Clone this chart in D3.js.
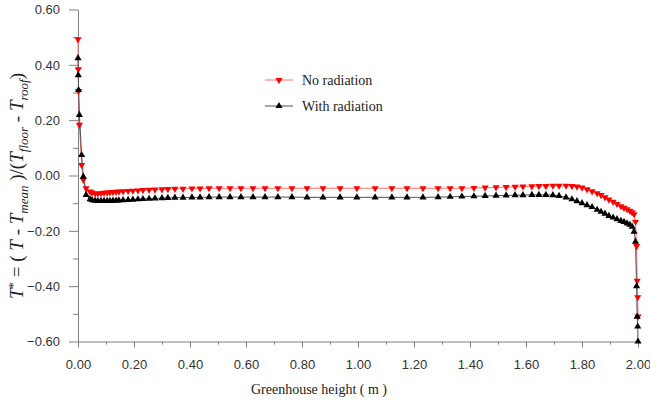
<!DOCTYPE html>
<html>
<head>
<meta charset="utf-8">
<script src="https://cdn.jsdelivr.net/npm/d3@7"></script>
<style>
  body { margin: 0; background: #fff; }
  svg { display: block; }
  .tick text { font-family: "Liberation Sans", Arial, sans-serif; font-size: 13px; fill: #333; }
  .axis path, .axis line { stroke: #808080; }
  .serif { font-family: "Liberation Serif", "Times New Roman", serif; fill: #222; }
</style>
</head>
<body>
<svg id="chart" width="650" height="403"></svg>
<script>
// grid positions along the greenhouse height (m)
const heights = [
  0.000, 0.001, 0.002, 0.005, 0.013, 0.019, 0.029, 0.043,
  0.050, 0.061, 0.071, 0.082, 0.093, 0.104, 0.114, 0.125, 0.136, 0.146,
  0.161, 0.179, 0.196, 0.214, 0.232, 0.254, 0.275, 0.300, 0.321, 0.346,
  0.375, 0.407, 0.436, 0.468, 0.504, 0.543, 0.582, 0.625, 0.668, 0.714,
  0.764, 0.818, 0.875, 0.936, 0.996, 1.061, 1.121, 1.175, 1.232, 1.286,
  1.329, 1.371, 1.414, 1.454, 1.493, 1.529, 1.561, 1.589, 1.621, 1.646,
  1.671, 1.696, 1.718, 1.743, 1.764, 1.782, 1.800, 1.818, 1.836, 1.854,
  1.868, 1.882, 1.896, 1.911, 1.925, 1.939, 1.950, 1.961, 1.971, 1.979,
  1.986, 1.991, 1.995, 1.997, 1.999, 2.000
];

const noRadiation = [
  0.492, 0.384, 0.305, 0.183, 0.038, -0.016, -0.046, -0.058,
  -0.062, -0.065, -0.065, -0.064, -0.063, -0.062, -0.061, -0.060, -0.059, -0.058,
  -0.057, -0.056, -0.055, -0.054, -0.053, -0.052, -0.051, -0.050, -0.049, -0.048,
  -0.048, -0.047, -0.047, -0.046, -0.046, -0.046, -0.046, -0.046, -0.046, -0.046,
  -0.046, -0.046, -0.046, -0.046, -0.046, -0.046, -0.046, -0.046, -0.046, -0.046,
  -0.046, -0.046, -0.045, -0.044, -0.043, -0.042, -0.041, -0.040, -0.039, -0.038,
  -0.038, -0.037, -0.037, -0.037, -0.038, -0.040, -0.044, -0.050, -0.057, -0.064,
  -0.071, -0.079, -0.087, -0.095, -0.103, -0.111, -0.117, -0.122, -0.128, -0.133,
  -0.140, -0.167, -0.255, -0.381, -0.440, -0.510
];

const withRadiation = [
  0.424, 0.363, 0.309, 0.219, 0.074, -0.004, -0.070, -0.086,
  -0.089, -0.091, -0.092, -0.092, -0.092, -0.092, -0.092, -0.091, -0.091, -0.090,
  -0.089, -0.088, -0.087, -0.086, -0.085, -0.084, -0.083, -0.082, -0.081, -0.080,
  -0.080, -0.079, -0.079, -0.078, -0.078, -0.078, -0.078, -0.078, -0.078, -0.078,
  -0.078, -0.079, -0.079, -0.079, -0.079, -0.079, -0.079, -0.079, -0.079, -0.078,
  -0.077, -0.076, -0.075, -0.074, -0.073, -0.072, -0.071, -0.071, -0.070, -0.070,
  -0.070, -0.071, -0.074, -0.079, -0.086, -0.093, -0.100, -0.107, -0.114, -0.124,
  -0.131, -0.138, -0.146, -0.152, -0.158, -0.164, -0.168, -0.173, -0.178, -0.185,
  -0.203, -0.239, -0.400, -0.510, -0.546, -0.600
];

const xTicks = [0, 0.2, 0.4, 0.6, 0.8, 1.0, 1.2, 1.4, 1.6, 1.8, 2.0];
const xMinor = [0.1, 0.3, 0.5, 0.7, 0.9, 1.1, 1.3, 1.5, 1.7, 1.9];
const yTicks = [-0.6, -0.4, -0.2, 0, 0.2, 0.4, 0.6];
const yMinor = [-0.5, -0.3, -0.1, 0.1, 0.3, 0.5];

const svg = d3.select("#chart");

const x = d3.scaleLinear().domain([0, 2]).range([78, 638]);
const y = d3.scaleLinear().domain([-0.6, 0.6]).range([341.5, 9.5]);

// axes
svg.append("g")
  .attr("class", "axis")
  .attr("transform", `translate(0,${y(-0.6)})`)
  .call(d3.axisBottom(x).tickValues(xMinor).tickSize(3).tickFormat(""))
  .select(".domain").remove();

svg.append("g")
  .attr("class", "axis")
  .attr("transform", `translate(0,${y(-0.6)})`)
  .call(d3.axisBottom(x).tickValues(xTicks).tickSize(6).tickSizeOuter(0).tickPadding(12).tickFormat(d3.format(".2f")));

svg.append("g")
  .attr("class", "axis")
  .attr("transform", `translate(${x(0)},0)`)
  .call(d3.axisLeft(y).tickValues(yMinor).tickSize(5).tickFormat(""))
  .select(".domain").remove();

svg.append("g")
  .attr("class", "axis")
  .attr("transform", `translate(${x(0)},0)`)
  .call(d3.axisLeft(y).tickValues(yTicks).tickSize(9).tickSizeOuter(0).tickPadding(9).tickFormat(d3.format(".2f")));

// series
const series = [
  { name: "No radiation", values: noRadiation, line: "#ff7070", mark: "#ff0000", down: true },
  { name: "With radiation", values: withRadiation, line: "#505050", mark: "#000000", down: false }
];

const line = d3.line()
  .x((d, i) => x(heights[i]))
  .y(d => y(d));

const tri = d3.symbol().type(d3.symbolTriangle).size(22);

series.forEach(s => {
  svg.append("path")
    .attr("d", line(s.values))
    .attr("fill", "none")
    .attr("stroke", s.line)
    .attr("stroke-width", 1);
});

series.forEach(s => {
  svg.append("g")
    .selectAll("path")
    .data(s.values)
    .join("path")
    .attr("d", tri)
    .attr("fill", s.mark)
    .attr("transform", (d, i) =>
      `translate(${x(heights[i])},${y(d)})` + (s.down ? " rotate(180)" : ""));
});

// legend
const legend = svg.append("g");
series.forEach((s, i) => {
  const ly = 80 + i * 26;
  legend.append("line")
    .attr("x1", 265).attr("x2", 293)
    .attr("y1", ly).attr("y2", ly)
    .attr("stroke", s.line);
  legend.append("path")
    .attr("d", tri)
    .attr("fill", s.mark)
    .attr("transform", `translate(279,${ly})` + (s.down ? " rotate(180)" : ""));
  legend.append("text")
    .attr("class", "serif")
    .attr("x", 302)
    .attr("y", ly + 5)
    .attr("font-size", 14)
    .text(s.name);
});

// axis titles
svg.append("text")
  .attr("class", "serif")
  .attr("x", 319)
  .attr("y", 394)
  .attr("text-anchor", "middle")
  .attr("font-size", 14)
  .text("Greenhouse height ( m )");

const yTitle = svg.append("text")
  .attr("class", "serif")
  .attr("transform", "translate(23,186) rotate(-90)")
  .attr("text-anchor", "middle")
  .attr("font-size", 19);

const parts = [
  ["T", "i", ""], ["*", "", "sup"], [" = ( ", "", ""], ["T", "i", ""], [" - ", "", ""],
  ["T", "i", ""], ["mean", "i", "sub"], [" )/(", "", ""], ["T", "i", ""], ["floor", "i", "sub"],
  [" - ", "", ""], ["T", "i", ""], ["roof", "i", "sub"], [")", "", ""]
];
let shift = 0;
parts.forEach(([t, style, pos]) => {
  const target = pos === "sub" ? 5 : pos === "sup" ? -6 : 0;
  yTitle.append("tspan")
    .attr("font-style", style === "i" ? "italic" : "normal")
    .attr("font-size", pos ? 13 : 19)
    .attr("dy", target - shift)
    .text(t);
  shift = target;
});
</script>
</body>
</html>
